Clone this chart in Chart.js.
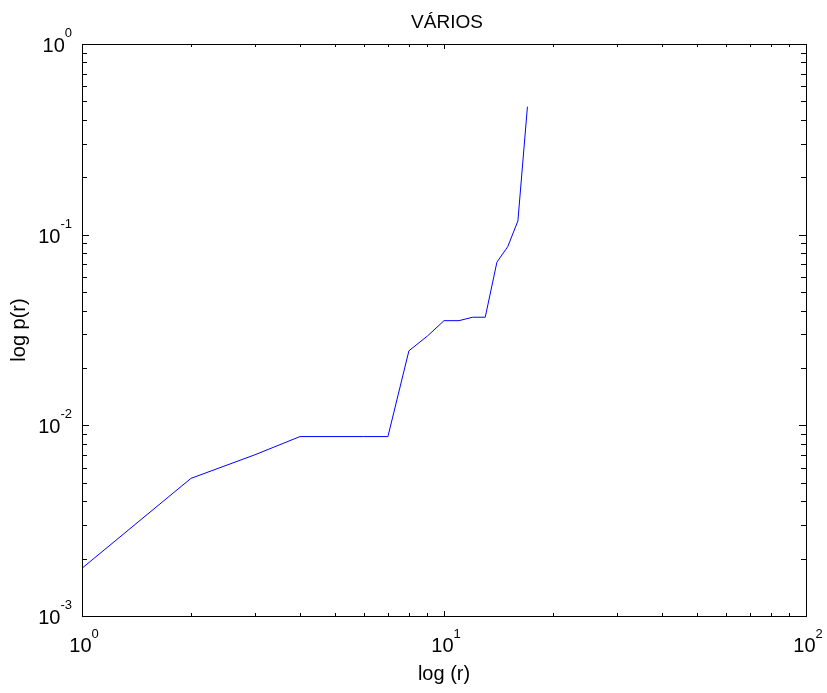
<!DOCTYPE html>
<html>
<head>
<meta charset="utf-8">
<script src="https://cdn.jsdelivr.net/npm/chart.js@4"></script>
<style>
html,body{margin:0;padding:0;background:#fff;}
#c{display:block;}
</style>
</head>
<body>
<canvas id="c" width="827" height="693"></canvas>
<script>
// ---- data ----
const rValues = [1, 2, 3, 4, 5, 6, 7, 8, 9, 10, 11, 12, 13, 14, 15, 16, 17];
const pValues = [0.00178, 0.00527, 0.0070, 0.00873, 0.00873, 0.00873, 0.00873, 0.0246, 0.0294, 0.0354, 0.0354, 0.0369, 0.0369, 0.0717, 0.0865, 0.118, 0.469];
const xTickExps = [0, 1, 2];
const yTickExps = [-3, -2, -1, 0];
const titleText = 'VÁRIOS';
const xLabel = 'log (r)';
const yLabel = 'log p(r)';

const FONT = 'Arial, "Liberation Sans", sans-serif';

function minorValues(minExp, maxExp) {
  const out = [];
  for (let e = minExp; e < maxExp; e++) {
    for (let m = 1; m <= 9; m++) out.push({v: m * Math.pow(10, e), major: m === 1});
  }
  out.push({v: Math.pow(10, maxExp), major: true});
  return out;
}

const matlabAxes = {
  id: 'matlabAxes',
  afterDraw(chart) {
    const ctx = chart.ctx;
    const a = chart.chartArea;
    const xs = chart.scales.x, ys = chart.scales.y;
    ctx.save();
    ctx.strokeStyle = '#000';
    ctx.lineWidth = 1;
    // box
    ctx.strokeRect(Math.round(a.left) + 0.5, Math.round(a.top) + 0.5, Math.round(a.right - a.left), Math.round(a.bottom - a.top));
    // x ticks (bottom and top, inward)
    ctx.beginPath();
    minorValues(xTickExps[0], xTickExps[xTickExps.length - 1]).forEach(t => {
      const px = Math.round(xs.getPixelForValue(t.v)) + 0.5;
      const len = t.major ? 5 : 3;
      ctx.moveTo(px, a.bottom); ctx.lineTo(px, a.bottom - len);
      ctx.moveTo(px, a.top); ctx.lineTo(px, a.top + len);
    });
    // y ticks (left and right, inward)
    minorValues(yTickExps[0], yTickExps[yTickExps.length - 1]).forEach(t => {
      const py = Math.round(ys.getPixelForValue(t.v)) + 0.5;
      const len = t.major ? 7 : 5;
      ctx.moveTo(a.left, py); ctx.lineTo(a.left + len, py);
      ctx.moveTo(a.right, py); ctx.lineTo(a.right - len, py);
    });
    ctx.stroke();

    ctx.fillStyle = '#000';
    const bigFont = '20px ' + FONT;
    const supFont = '13px ' + FONT;
    // x tick labels
    xTickExps.forEach(e => {
      const px = xs.getPixelForValue(Math.pow(10, e));
      ctx.font = bigFont;
      const wb = ctx.measureText('10').width;
      ctx.font = supFont;
      const ws = ctx.measureText(String(e)).width;
      const total = wb + ws;
      const x0 = px + 2 - total / 2;
      ctx.textAlign = 'left';
      ctx.textBaseline = 'alphabetic';
      ctx.font = bigFont;
      ctx.fillText('10', x0, a.bottom + 36);
      ctx.font = supFont;
      ctx.fillText(String(e), x0 + wb, a.bottom + 22);
    });
    // y tick labels
    yTickExps.forEach(e => {
      const py = ys.getPixelForValue(Math.pow(10, e));
      const sup = e < 0 ? '-' + Math.abs(e) : String(e);
      ctx.font = supFont;
      const ws = ctx.measureText(sup).width;
      const right = a.left - 10;
      ctx.textAlign = 'left';
      ctx.textBaseline = 'alphabetic';
      ctx.fillText(sup, right - ws, py - 7);
      ctx.font = bigFont;
      const wb = ctx.measureText('10').width;
      ctx.fillText('10', right - ws - wb, py + 8);
    });
    // title
    ctx.font = '19px ' + FONT;
    ctx.textAlign = 'center';
    ctx.textBaseline = 'alphabetic';
    ctx.fillText(titleText, (a.left + a.right) / 2 + 3, 28);
    // x label
    ctx.font = '20px ' + FONT;
    ctx.fillText(xLabel, (a.left + a.right) / 2, a.bottom + 64);
    // y label
    ctx.save();
    ctx.translate(25, (a.top + a.bottom) / 2);
    ctx.rotate(-Math.PI / 2);
    ctx.fillText(yLabel, 0, 0);
    ctx.restore();
    ctx.restore();
  }
};

new Chart(document.getElementById('c'), {
  type: 'line',
  data: {
    datasets: [{
      data: rValues.map((r, i) => ({x: r, y: pValues[i]})),
      borderColor: '#0000ff',
      borderWidth: 1,
      pointRadius: 0,
      tension: 0,
      fill: false
    }]
  },
  options: {
    responsive: false,
    devicePixelRatio: 1,
    animation: false,
    layout: {padding: {left: 82, right: 21, top: 44, bottom: 77}},
    plugins: {legend: {display: false}, tooltip: {enabled: false}, title: {display: false}},
    scales: {
      x: {type: 'logarithmic', min: 1, max: 100, display: false},
      y: {type: 'logarithmic', min: 0.001, max: 1, display: false}
    }
  },
  plugins: [matlabAxes]
});
</script>
</body>
</html>
